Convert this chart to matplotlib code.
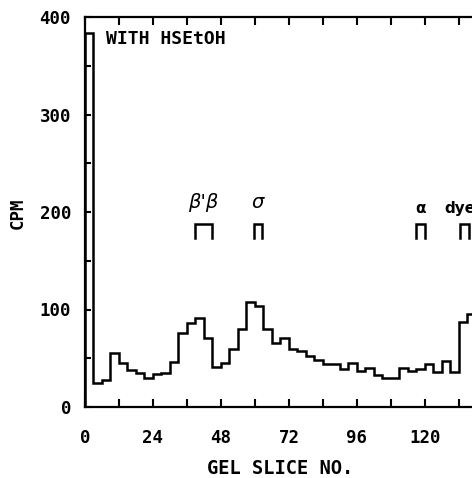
import matplotlib
matplotlib.use('Agg')
import matplotlib.pyplot as plt

# cpm per gel slice bin (3 slices per bin)
bordes = list(range(0, 141, 3))[:47]
cpm = [384, 25, 28, 55, 45, 38, 34.5, 30, 33.5, 35,
       46.5, 75.5, 86.5, 91.5, 70.5, 41.5, 45.5, 59.5, 80.5, 107.5,
       103.5, 80.5, 65.5, 70.5, 59.5, 57.5, 52.5, 48, 44, 44,
       38.5, 45, 36.5, 40, 33, 30, 30, 40.5, 37, 38.5,
       44, 36, 47, 35.5, 87, 95]

# marcadores de subunidades
marcas = ["β'β", "σ", "α", "dye"]
marca_x = [(39, 45), (59.6, 62.4), (117, 120), (132.5, 135.5)]
marca_y = (173, 188)

fuente = 'DejaVu Sans Mono'
xmax = 138.8

fig = plt.figure(figsize=(4.72, 4.78), dpi=100)
ax = fig.add_axes([85/472, 71/478, xmax*2.8333/472, 390/478])

ax.stairs(cpm, bordes, color='black', lw=1.8, baseline=0)

for (x0, x1) in marca_x:
    ax.plot([x0, x0, x1, x1], [marca_y[0], marca_y[1], marca_y[1], marca_y[0]],
            color='black', lw=1.8, solid_joinstyle='miter')

ax.text(41.6, 210, marcas[0], ha='center', va='center', fontsize=14, style='italic', family='DejaVu Sans')
ax.text(61, 210, marcas[1], ha='center', va='center', fontsize=14, style='italic', family='DejaVu Sans')
ax.text(118.3, 204, marcas[2], ha='center', va='center', fontsize=11, weight='bold', family='DejaVu Sans')
ax.text(132.2, 204, marcas[3], ha='center', va='center', fontsize=11, weight='bold', family='DejaVu Sans')

ax.text(7.5, 377, 'WITH HSEtOH', ha='left', va='center', fontsize=13, weight='bold', family=fuente)

ax.set_xlim(0, xmax)
ax.set_ylim(0, 400)
ax.set_xticks(range(0, 138, 12))
ax.set_xticklabels([str(v) if v % 24 == 0 else '' for v in range(0, 138, 12)])
ax.set_yticks(range(0, 401, 50))
ax.set_yticklabels([str(v) if v % 100 == 0 else '' for v in range(0, 401, 50)])
ax.tick_params(axis='x', direction='in', length=6, width=1.5, top=True, pad=16)
ax.tick_params(axis='y', direction='in', length=4.5, width=1.5, right=True, pad=10)
for lab in ax.get_xticklabels() + ax.get_yticklabels():
    lab.set_family(fuente)
    lab.set_weight('bold')
    lab.set_fontsize(12.5)
for s in ax.spines.values():
    s.set_linewidth(1.6)

fig.text(280/472, 1 - 469/478, 'GEL SLICE NO.', ha='center', va='center',
         fontsize=13.5, weight='bold', family=fuente)
fig.text(18/472, 1 - 213/478, 'CPM', ha='center', va='center', rotation=90,
         fontsize=12.5, weight='bold', family=fuente)

plt.savefig('out.png', dpi=100)
